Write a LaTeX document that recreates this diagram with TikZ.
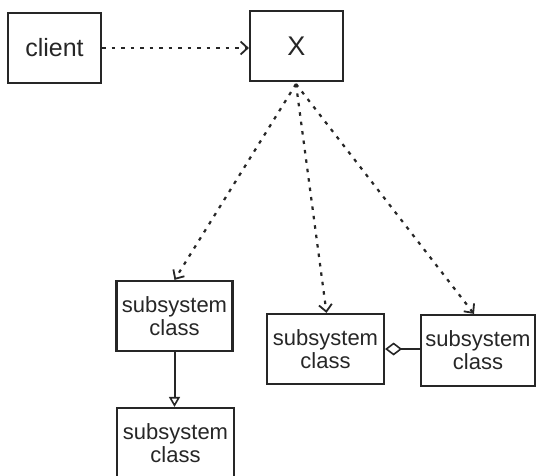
\documentclass[tikz,border=0pt]{standalone}
\usepackage{fontspec}
\setmainfont{Liberation Sans}
\usetikzlibrary{arrows.meta}
\begin{document}
\begin{tikzpicture}[x=1pt,y=-1pt,
  box/.style={draw=black!85,line width=2.2pt,rectangle,inner sep=0pt,align=center,
    text=black!85,font=\fontsize{22}{23}\selectfont},
  dep/.style={draw=black!85,line width=2.2pt,dash pattern=on 3.5pt off 6pt,
    -{Straight Barb[length=7pt,width=13pt,line width=1.8pt]}},
  gen/.style={draw=black!85,line width=2pt,-{Triangle[open,length=10pt,width=11pt,line width=1.6pt]}},
  agg/.style={draw=black!85,line width=2pt,{Diamond[open,length=17pt,width=13pt,line width=1.6pt]}-}]
\useasboundingbox (0,0) rectangle (536,475);
\begin{scope}
\clip (0,0) rectangle (536,475);
\node[box,minimum width=93pt,minimum height=70pt,font=\fontsize{25}{26}\selectfont] (client) at (54.5,48) {client};
\node[box,minimum width=93pt,minimum height=70pt,font=\fontsize{27}{28}\selectfont] (X) at (296.5,46) {X};
\node[box,minimum width=116pt,minimum height=70pt] (s1) at (174.5,316) {subsystem\\class};
\node[box,minimum width=117pt,minimum height=70pt] (s4) at (175.5,443) {subsystem\\class};
\node[box,minimum width=117pt,minimum height=70pt] (s2) at (325.5,349) {subsystem\\class};
\node[box,minimum width=114pt,minimum height=71pt] (s3) at (478,350.5) {subsystem\\class};
\coordinate (xb) at (296,84);
\draw[dep] (client.east) -- (X.west|-client.east);
\draw[dep] (xb) -- (s1.north);
\draw[dep] (xb) -- ([xshift=1pt]s2.north);
\draw[dep] (xb) -- ([xshift=-4pt]s3.north);
\draw[gen] (s1.south) -- (s1.south|-s4.north);
\draw[agg] (s2.east) -- (s3.west|-s2.east);
\end{scope}
\end{tikzpicture}
\end{document}
